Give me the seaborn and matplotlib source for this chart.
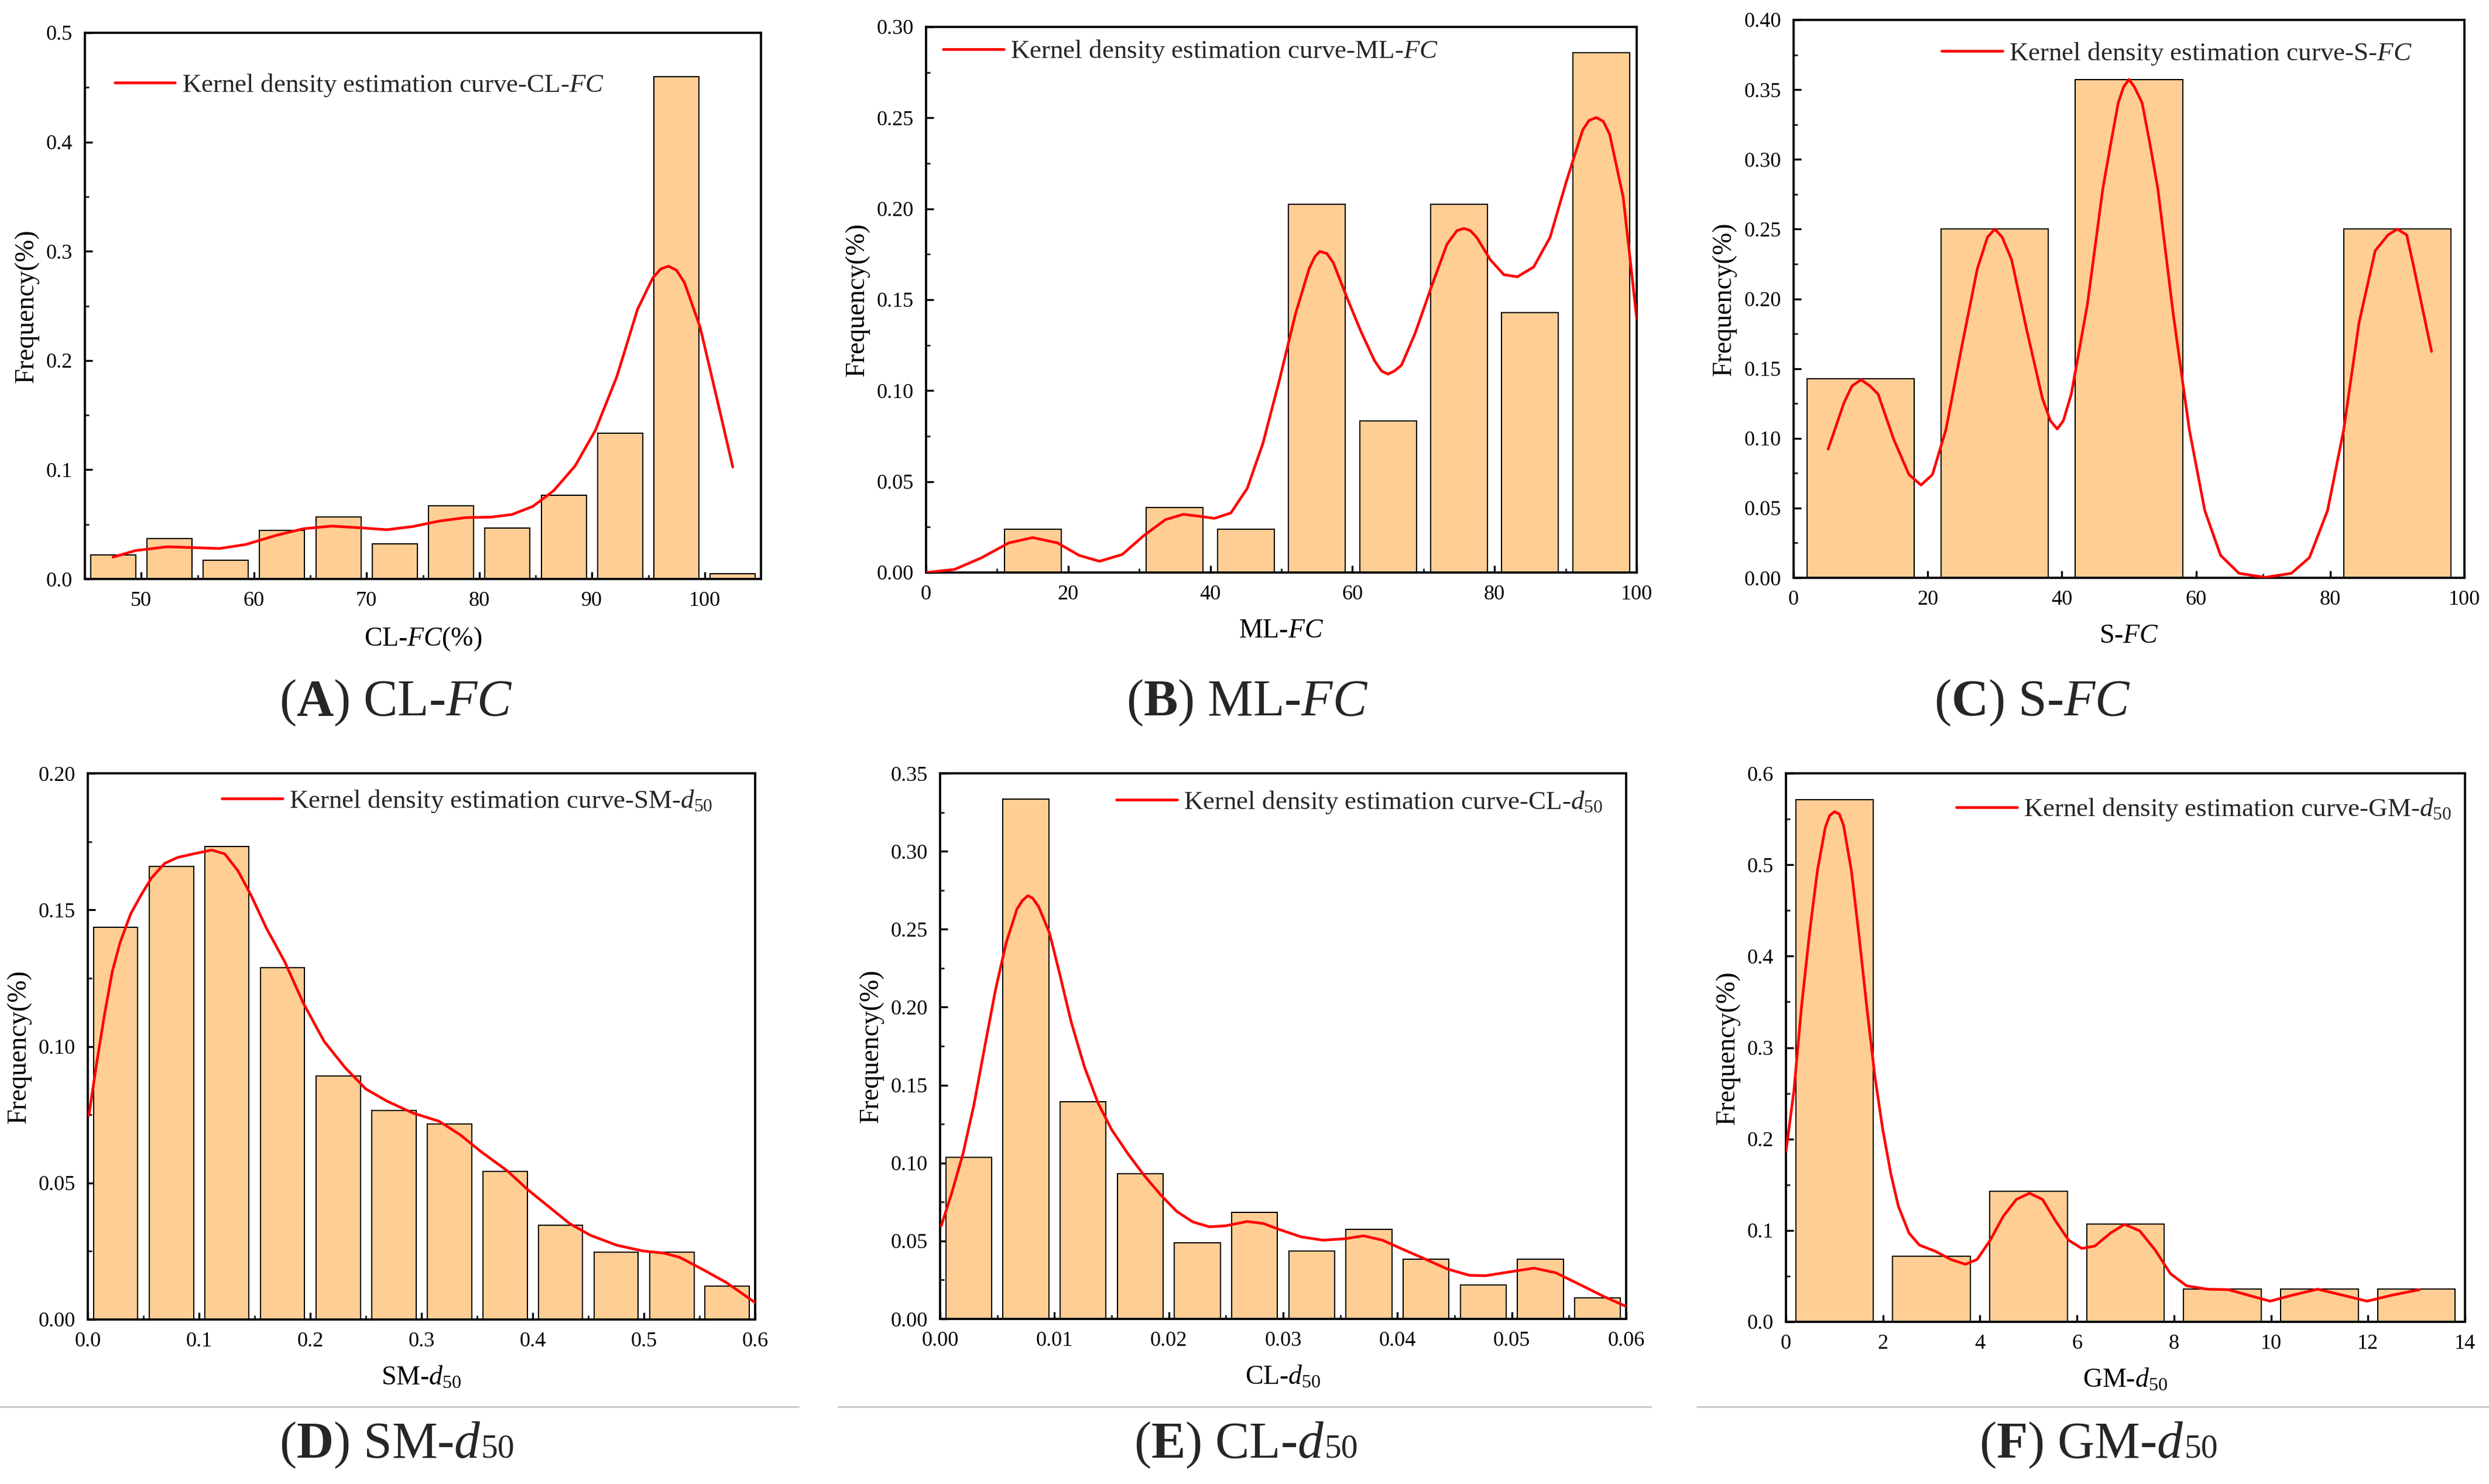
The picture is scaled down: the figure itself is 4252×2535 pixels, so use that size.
import numpy as np
import matplotlib.pyplot as plt
from matplotlib.lines import Line2D
from matplotlib.ticker import MultipleLocator, FormatStrFormatter
import seaborn as sns

sns.set_theme(style="ticks")
plt.rcParams['font.family'] = ['Liberation Serif', 'DejaVu Serif']
plt.rcParams['mathtext.fontset'] = 'custom'
plt.rcParams['mathtext.rm'] = 'Liberation Serif'
plt.rcParams['mathtext.it'] = 'Liberation Serif:italic'
plt.rcParams['mathtext.bf'] = 'Liberation Serif:bold'

# ---------------------------------------------------------------
# Data
# ---------------------------------------------------------------
# (A) CL-FC
a_centers = [47.5, 52.5, 57.5, 62.5, 67.5, 72.5, 77.5, 82.5, 87.5, 92.5, 97.5, 102.5]
a_freq = [0.0221, 0.0369, 0.0172, 0.0443, 0.0570, 0.0320, 0.0669, 0.0468, 0.0767, 0.1333, 0.4598, 0.0049]
a_kde_x = [47.5, 49.5, 52.3, 54.6, 56.95, 59.3, 62.0, 64.4, 66.9, 69.5, 71.8, 74.1, 76.4, 78.8,
           81.0, 82.9, 84.75, 86.6, 88.5, 90.3, 92.2, 94.05, 95.4, 96.1, 96.8, 97.5, 98.2, 99.6,
           101.0, 102.5]
a_kde_y = [0.020, 0.026, 0.0295, 0.0287, 0.0279, 0.0316, 0.040, 0.046, 0.0484, 0.0468, 0.0451, 0.048,
           0.0529, 0.0562, 0.0566, 0.059, 0.0664, 0.0808, 0.1034, 0.136, 0.185, 0.247, 0.2756, 0.2838,
           0.2863, 0.2826, 0.2715, 0.2305, 0.169, 0.1025]

# (B) ML-FC
b_centers = [15, 35, 45, 55, 65, 75, 85, 95]
b_freq = [0.0238, 0.0357, 0.0238, 0.2024, 0.0833, 0.2024, 0.1429, 0.2857]
b_kde_x = [0, 4.0, 7.8, 11.65, 15.0, 18.5, 21.55, 24.4, 27.6, 30.7, 33.7, 36.2, 38.3, 40.6, 42.9,
           45.2, 47.4, 49.7, 52.0, 53.9, 54.7, 55.4, 56.4, 57.3, 59.25, 61.2, 63.1, 64.1, 65.0, 65.9,
           66.9, 68.8, 71.1, 73.3, 74.7, 75.7, 76.6, 77.5, 79.4, 81.3, 83.2, 85.5, 87.8, 90.1, 92.4,
           93.3, 94.3, 95.3, 96.2, 98.1, 100]
b_kde_y = [0.0, 0.0017, 0.0081, 0.0163, 0.0192, 0.0163, 0.0094, 0.0062, 0.0099, 0.0205, 0.0291,
           0.0320, 0.031, 0.0298, 0.0328, 0.0463, 0.071, 0.1054, 0.1424, 0.167, 0.1736, 0.1766,
           0.1754, 0.1704, 0.151, 0.1325, 0.1165, 0.1108, 0.1091, 0.1108, 0.114, 0.1313, 0.157,
           0.1805, 0.188, 0.1892, 0.188, 0.1842, 0.172, 0.1638, 0.1626, 0.168, 0.1842, 0.215, 0.2433,
           0.2486, 0.2502, 0.2481, 0.2409, 0.2064, 0.1397]

# (C) S-FC
c_centers = [10, 30, 50, 90]
c_freq = [0.1429, 0.25, 0.3571, 0.25]
c_kde_x = [5.15, 7.5, 8.7, 10.06, 11.4, 12.6, 14.9, 17.2, 19.0, 20.7, 22.7, 25.0, 27.4, 28.9, 30.0,
           31.1, 32.5, 34.8, 37.1, 38.3, 39.3, 40.2, 41.4, 43.8, 46.1, 47.3, 48.4, 49.2, 50.0, 50.8,
           51.95, 53.1, 54.3, 56.6, 59.0, 61.3, 63.65, 66.4, 70.3, 74.2, 76.9, 79.6, 82.0, 84.3,
           86.7, 88.6, 90.0, 91.4, 92.5, 95.1]
c_kde_y = [0.0922, 0.1253, 0.1375, 0.142, 0.1375, 0.1317, 0.0996, 0.074, 0.0665, 0.074, 0.1060,
           0.164, 0.2217, 0.2442, 0.25, 0.2442, 0.2281, 0.1767, 0.1285, 0.1125, 0.1067, 0.1125,
           0.1317, 0.1960, 0.279, 0.3117, 0.3406, 0.352, 0.3573, 0.352, 0.3406, 0.3117, 0.279,
           0.1888, 0.1060, 0.0482, 0.0161, 0.0032, 0.0003, 0.0032, 0.0145, 0.0482, 0.1060, 0.1831,
           0.2345, 0.2458, 0.25, 0.2458, 0.2217, 0.1623]

# (D) SM-d50
d_centers = [0.025, 0.075, 0.125, 0.175, 0.225, 0.275, 0.325, 0.375, 0.425, 0.475, 0.525, 0.575]
d_freq = [0.1436, 0.1659, 0.1733, 0.1288, 0.0891, 0.0766, 0.0717, 0.0543, 0.0346, 0.0246, 0.0246, 0.0123]
d_kde_x = [0.001, 0.008, 0.015, 0.022, 0.029, 0.0385, 0.048, 0.0573, 0.069, 0.0808, 0.0949, 0.1114,
           0.1231, 0.135, 0.1466, 0.1607, 0.1772, 0.1936, 0.2124, 0.2312, 0.25, 0.2688, 0.2923,
           0.3158, 0.3346, 0.3534, 0.377, 0.3957, 0.4145, 0.4333, 0.4521, 0.4756, 0.4991, 0.5179,
           0.532, 0.5508, 0.5743, 0.6]
d_kde_y = [0.0747, 0.0940, 0.1116, 0.1274, 0.1380, 0.1485, 0.1555, 0.1617, 0.1670, 0.1692, 0.1705,
           0.1719, 0.1705, 0.1643, 0.1555, 0.1432, 0.1309, 0.1160, 0.1019, 0.0923, 0.0844, 0.0800,
           0.0756, 0.0726, 0.0677, 0.0615, 0.0545, 0.0475, 0.0413, 0.0351, 0.0308, 0.0272, 0.0251,
           0.0243, 0.0228, 0.0188, 0.0135, 0.0062]

# (E) CL-d50
e_centers = [0.0025, 0.0075, 0.0125, 0.0175, 0.0225, 0.0275, 0.0325, 0.0375, 0.0425, 0.0475, 0.0525, 0.0575]
e_freq = [0.1037, 0.3334, 0.1394, 0.0930, 0.0489, 0.0683, 0.0437, 0.0573, 0.0382, 0.0219, 0.0382, 0.0135]
e_kde_x = [0.0001, 0.00104, 0.002, 0.00294, 0.00388, 0.00483, 0.00578, 0.00672, 0.0072, 0.00767,
           0.0081, 0.00862, 0.00957, 0.01051, 0.01146, 0.01264, 0.01383, 0.01501, 0.01643, 0.01785,
           0.01927, 0.02069, 0.02211, 0.02354, 0.02496, 0.02685, 0.02827, 0.02969, 0.03159, 0.03348,
           0.03537, 0.03703, 0.03869, 0.04058, 0.04248, 0.04437, 0.04627, 0.04769, 0.04958, 0.05195,
           0.05384, 0.05574, 0.05810, 0.06]
e_kde_y = [0.0597, 0.0813, 0.1059, 0.1367, 0.1736, 0.2106, 0.2413, 0.2629, 0.2684, 0.2715, 0.2699,
           0.2644, 0.2475, 0.2198, 0.1906, 0.1613, 0.1382, 0.1213, 0.1059, 0.0920, 0.0797, 0.0690,
           0.0622, 0.0591, 0.0597, 0.0625, 0.0612, 0.0573, 0.0526, 0.0505, 0.0514, 0.0533, 0.0505,
           0.0443, 0.0382, 0.0320, 0.0280, 0.0277, 0.0299, 0.0326, 0.0296, 0.0228, 0.0142, 0.0080]

# (F) GM-d50
f_centers = [1, 3, 5, 7, 9, 11, 13]
f_freq = [0.5714, 0.0714, 0.1429, 0.1071, 0.0357, 0.0357, 0.0357]
f_kde_x = [0, 0.162, 0.324, 0.486, 0.648, 0.81, 0.90, 1.0, 1.1, 1.187, 1.349, 1.511, 1.673, 1.835,
           1.997, 2.159, 2.32, 2.537, 2.75, 3.08, 3.4, 3.70, 3.94, 4.21, 4.48, 4.75, 5.02, 5.29,
           5.56, 5.83, 6.10, 6.37, 6.69, 6.98, 7.29, 7.61, 7.93, 8.26, 8.69, 9.12, 9.55, 9.98,
           10.42, 10.96, 11.50, 11.98, 12.47, 13.06]
f_kde_y = [0.1864, 0.2520, 0.3465, 0.4252, 0.4934, 0.5407, 0.5538, 0.558, 0.5554, 0.5433, 0.4934,
           0.42, 0.3412, 0.2677, 0.21, 0.1627, 0.126, 0.0971, 0.084, 0.0772, 0.0682, 0.063, 0.0682,
           0.0892, 0.1155, 0.1339, 0.1407, 0.1339, 0.1102, 0.0892, 0.0803, 0.0829, 0.0971, 0.1066,
           0.0997, 0.0787, 0.0525, 0.0394, 0.0357, 0.0352, 0.0289, 0.0226, 0.0289, 0.0357, 0.0289,
           0.0226, 0.0289, 0.0352]

x_labels = [r'CL-$\mathit{FC}$(%)', r'ML-$\mathit{FC}$', r'S-$\mathit{FC}$',
            r'SM-$\mathit{d}_{50}$', r'CL-$\mathit{d}_{50}$', r'GM-$\mathit{d}_{50}$']
legend_labels = [r'Kernel density estimation curve-CL-$\mathit{FC}$',
                 r'Kernel density estimation curve-ML-$\mathit{FC}$',
                 r'Kernel density estimation curve-S-$\mathit{FC}$',
                 r'Kernel density estimation curve-SM-$\mathit{d}_{50}$',
                 r'Kernel density estimation curve-CL-$\mathit{d}_{50}$',
                 r'Kernel density estimation curve-GM-$\mathit{d}_{50}$']
# caption main part and trailing small part (the "50" of d50 is set smaller)
captions = [(r'($\mathbf{A}$) CL-$\mathit{FC}$', ''), (r'($\mathbf{B}$) ML-$\mathit{FC}$', ''),
            (r'($\mathbf{C}$) S-$\mathit{FC}$', ''), (r'($\mathbf{D}$) SM-$\mathit{d}$', '50'),
            (r'($\mathbf{E}$) CL-$\mathit{d}$', '50'), (r'($\mathbf{F}$) GM-$\mathit{d}$', '50')]

# ---------------------------------------------------------------
# Layout / axis settings per panel
# ---------------------------------------------------------------
W, H = 4252, 2535
# axes boxes in pixels: left, right, top, bottom
boxes = [(145, 1300, 56, 989), (1582, 2796, 46, 978), (3064, 4210, 34, 987),
         (150, 1290, 1321, 2254), (1606, 2778, 1321, 2253), (3051, 4211, 1321, 2258)]
xlims = [(45, 105), (0, 100), (0, 100), (0, 0.6), (0, 0.06), (0, 14)]
ylims = [(0, 0.5), (0, 0.30), (0, 0.40), (0, 0.20), (0, 0.35), (0, 0.6)]
xmajor = [10, 20, 20, 0.1, 0.01, 2]
xminor = [5, 10, 10, 0.05, 0.005, 1]
ymajor = [0.1, 0.05, 0.05, 0.05, 0.05, 0.1]
yminor = [0.05, 0.025, 0.025, 0.025, 0.025, 0.05]
xfmt = ['%d', '%d', '%d', '%.1f', '%.2f', '%d']
yfmt = ['%.1f', '%.2f', '%.2f', '%.2f', '%.2f', '%.1f']
leg_anchor = [(0.044, 0.904), (0.024, 0.955), (0.221, 0.940),
              (0.201, 0.949), (0.257, 0.947), (0.251, 0.934)]
# caption centre x and baseline y in pixels
caption_pos = [(676, 1222), (2131, 1222), (3472, 1222), (678, 2490), (2129, 2490), (3585, 2490)]
divider_spans = [(0, 1364), (1432, 2820), (2899, 4252)]

bar_color = '#FECE94'
panels = [(a_centers, a_freq, a_kde_x, a_kde_y), (b_centers, b_freq, b_kde_x, b_kde_y),
          (c_centers, c_freq, c_kde_x, c_kde_y), (d_centers, d_freq, d_kde_x, d_kde_y),
          (e_centers, e_freq, e_kde_x, e_kde_y), (f_centers, f_freq, f_kde_x, f_kde_y)]

fig = plt.figure(figsize=(W / 300, H / 300), dpi=300)
fig.patch.set_facecolor('white')
renderer = fig.canvas.get_renderer()

for i, (centers, freq, kx, ky) in enumerate(panels):
    l, r, t, b = boxes[i]
    ax = fig.add_axes([l / W, 1 - b / H, (r - l) / W, (b - t) / H])
    ax.set_facecolor('white')

    # histogram bars (frequency per bin)
    sns.barplot(x=centers, y=freq, native_scale=True, width=0.8, color=bar_color,
                saturation=1, edgecolor='black', linewidth=0.5, errorbar=None, ax=ax, zorder=2)
    # kernel density curve
    sns.lineplot(x=kx, y=ky, color='red', linewidth=1.1, label=legend_labels[i], ax=ax, zorder=3)

    ax.set_xlim(*xlims[i])
    ax.set_ylim(*ylims[i])
    ax.xaxis.set_major_locator(MultipleLocator(xmajor[i]))
    ax.xaxis.set_minor_locator(MultipleLocator(xminor[i]))
    ax.yaxis.set_major_locator(MultipleLocator(ymajor[i]))
    ax.yaxis.set_minor_locator(MultipleLocator(yminor[i]))
    ax.xaxis.set_major_formatter(FormatStrFormatter(xfmt[i]))
    ax.yaxis.set_major_formatter(FormatStrFormatter(yfmt[i]))

    ax.tick_params(axis='both', which='major', direction='in', length=3, width=0.8,
                   labelsize=8.7, pad=5, colors='black', top=False, right=False)
    ax.tick_params(axis='both', which='minor', direction='in', length=1.6, width=0.7,
                   top=False, right=False)
    for sp in ax.spines.values():
        sp.set_visible(True)
        sp.set_color('black')
        sp.set_linewidth(0.9)

    ax.set_xlabel(x_labels[i], fontsize=11, labelpad=6, color='black')
    ax.set_ylabel('Frequency(%)', fontsize=11, labelpad=3, color='black')
    ax.grid(False)

    ax.legend(loc='center left', bbox_to_anchor=leg_anchor[i], frameon=False,
              fontsize=10.8, handlelength=2.3, handletextpad=0.25, borderpad=0,
              borderaxespad=0)

    # panel caption: main text, then a smaller "50" on the same baseline
    main_txt, tail_txt = captions[i]
    cx, cy = caption_pos[i]
    cap = fig.text(0, 1 - cy / H, main_txt, fontsize=21, ha='left', va='baseline')
    tail = fig.text(0, 1 - cy / H, tail_txt, fontsize=13.8, ha='left', va='baseline')
    w_main = cap.get_window_extent(renderer).width if main_txt else 0
    w_tail = tail.get_window_extent(renderer).width if tail_txt else 0
    x0 = cx - (w_main + w_tail) / 2
    cap.set_x(x0 / W)
    tail.set_x((x0 + w_main) / W)

# thin grey separator lines above the bottom captions
for x0, x1 in divider_spans:
    fig.add_artist(Line2D([x0 / W, x1 / W], [1 - 2403 / H, 1 - 2403 / H],
                          transform=fig.transFigure, color='#c8c8c8', linewidth=0.7))

fig.savefig('out.png', dpi=300, facecolor='white')
